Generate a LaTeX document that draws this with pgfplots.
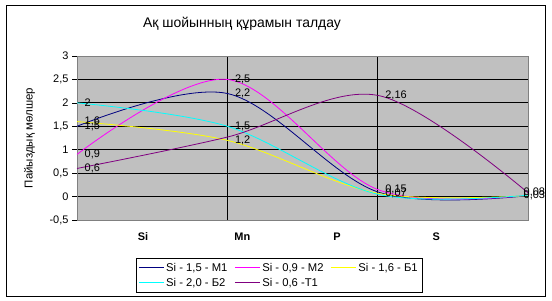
\documentclass[border=0pt]{standalone}
\usepackage{fontspec}
\setmainfont{Liberation Sans}
\usepackage{pgfplots}
\pgfplotsset{compat=1.18}
\definecolor{cNavy}{HTML}{000080}
\definecolor{cMag}{HTML}{FF00FF}
\definecolor{cYel}{HTML}{FFFF00}
\definecolor{cCyan}{HTML}{00FFFF}
\definecolor{cPurp}{HTML}{800080}
\definecolor{plotgray}{HTML}{C0C0C0}
\definecolor{bordergray}{HTML}{808080}
\begin{document}
\begin{tikzpicture}[x=1bp,y=1bp]
\path[use as bounding box] (0,0) rectangle (552,300);
\draw[black, line width=0.8bp] (6,4) rectangle (545,295);
\node[font=\fontsize{14}{16}\selectfont] at (242,276) {Ақ шойынның құрамын талдау};
\begin{axis}[
  at={(77bp,80bp)}, anchor=south west,
  scale only axis, width=451bp, height=164bp,
  xmin=0, xmax=3, ymin=-0.5, ymax=3,
  clip=false,
  axis background/.style={fill=plotgray},
  axis line style={draw=bordergray, line width=0.8bp},
  ytick={-0.5,0,0.5,1,1.5,2,2.5,3},
  ytick style={black, line width=0.6bp},
  ytick pos=left,
  tick align=outside,
  major tick length=5bp,
  yticklabel style={font=\fontsize{11}{13}\selectfont, /pgf/number format/.cd, use comma, assume math mode=true},
  xtick={1,2}, xticklabels={,}, xtick style={draw=none},
  xmajorgrids, ymajorgrids,
  major grid style={black, line width=0.8bp},
  extra x ticks={0.439,1.10,1.73,2.39},
  extra x tick labels={Si,Mn,P,S},
  extra x tick style={xmajorgrids=false, major tick length=0pt, xticklabel style={font=\fontsize{11}{13}\selectfont\bfseries, yshift=-9bp}},
  ylabel={Пайыздық мөлшер},
  ylabel style={at={(axis description cs:-0.105,0.5)}, anchor=center, font=\fontsize{11.5}{13}\selectfont},
  legend columns=3,
  legend style={at={(0.448,-0.232)}, anchor=north, draw=black, fill=white, line width=0.6bp,
    font=\fontsize{11.3}{12}\selectfont, cells={anchor=west},
    /tikz/every even column/.append style={column sep=5bp}, inner sep=2.5bp, row sep=1.5bp},
  legend image code/.code={\draw[#1, line width=0.8bp] (0bp,0bp) -- (25bp,0bp);},
  point meta=explicit symbolic,
  nodes near coords,
  every node near coord/.append style={anchor=west, xshift=4bp, yshift=0bp, black, font=\fontsize{11}{13}\selectfont},
  coordinate style/.condition={x>2.5}{xshift=-12bp},
  every axis plot/.append style={smooth, tension=0.55, line width=0.8bp, no marks},
]
\addplot[cNavy] table[meta=lab] {
x y lab
0 1.5 {1,5}
1 2.2 {2,2}
2 0.10 {}
3 0.02 {}
};
\addlegendentry{Si - 1,5 - M1}
\addplot[cMag] table[meta=lab] {
x y lab
0 0.9 {0,9}
1 2.5 {2,5}
2 0.15 {0,15}
3 0.03 {}
};
\addlegendentry{Si - 0,9 - M2}
\addplot[cYel] table[meta=lab] {
x y lab
0 1.6 {1,6}
1 1.2 {1,2}
2 0.07 {0,07}
3 0.02 {}
};
\addlegendentry{Si - 1,6 - Б1}
\addplot[cCyan] table[meta=lab] {
x y lab
0 2.0 {2}
1 1.5 {1,5}
2 0.05 {}
3 0.03 {0,03}
};
\addlegendentry{Si - 2,0 - Б2}
\addplot[cPurp] table[meta=lab] {
x y lab
0 0.6 {0,6}
1 1.27 {}
2 2.16 {2,16}
3 0.08 {0,08}
};
\addlegendentry{Si - 0,6 -T1}
\end{axis}
\end{tikzpicture}
\end{document}
